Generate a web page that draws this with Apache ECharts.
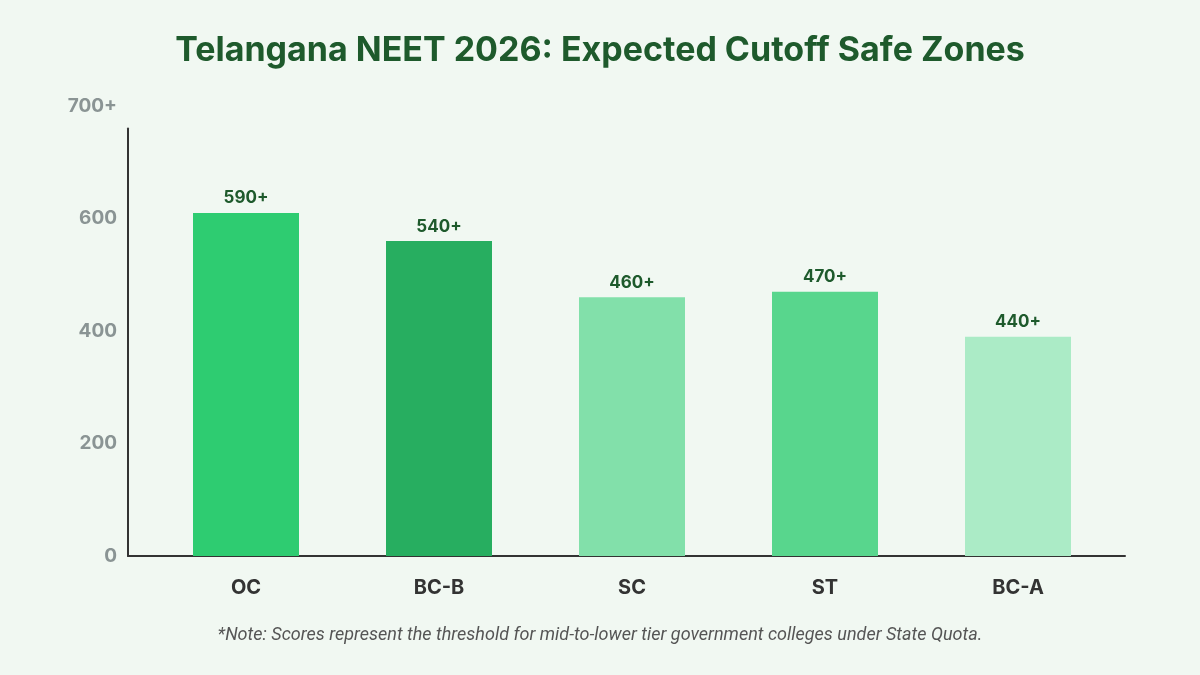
<!DOCTYPE html>
<html>
<head>
<meta charset="utf-8">
<script src="https://cdn.jsdelivr.net/npm/echarts@6/dist/echarts.min.js"></script>
<style>
html,body{margin:0;padding:0;background:#f1f8f2;}
#chart{width:1200px;height:675px;}
</style>
</head>
<body>
<div id="chart"></div>
<script>
const categories = ['OC', 'BC-B', 'SC', 'ST', 'BC-A'];
const barValues = [610, 560, 460, 470, 390];
const barLabels = ['590+', '540+', '460+', '470+', '440+'];
const barColors = ['#2ecc71', '#27ae60', '#82e0aa', '#58d68d', '#abebc6'];
const yTicks = [0, 200, 400, 600];
const yTopLabel = '700+';

(function () {
const FONT = 'Inter, "Noto Sans", sans-serif';
const chart = echarts.init(document.getElementById('chart'));
const gTop = 128.5, gBottom = 119, yMax = 760;

chart.setOption({
  backgroundColor: '#f1f8f2',
  animation: false,
  title: {
    text: 'Telangana NEET 2026: Expected Cutoff Safe Zones',
    left: 'center', top: 29,
    textStyle: { fontFamily: FONT, fontSize: 34, fontWeight: 'bold', color: '#1e5a2c' }
  },
  graphic: [{
    type: 'text', left: 'center', top: 626,
    style: {
      text: '*Note: Scores represent the threshold for mid-to-lower tier government colleges under State Quota.',
      font: 'italic 18px Roboto, sans-serif', fill: '#555555'
    }
  }],
  grid: [
    { left: 128, right: 75, top: gTop, bottom: gBottom },
    { left: 149.5, right: 85.5, top: gTop, bottom: gBottom }
  ],
  xAxis: [
    { type: 'category', gridIndex: 0, data: categories.map(() => ''),
      axisLine: { show: true, lineStyle: { color: '#333333', width: 2 } },
      axisTick: { show: false }, axisLabel: { show: false }, splitLine: { show: false } },
    { type: 'category', gridIndex: 1, data: categories,
      axisLine: { show: false }, axisTick: { show: false },
      axisLabel: { margin: 22, fontFamily: FONT, fontSize: 20, fontWeight: 'bold', color: '#333333' } }
  ],
  yAxis: [
    { type: 'value', gridIndex: 0, min: 0, max: yMax, interval: 200,
      name: yTopLabel, nameLocation: 'end', nameGap: 13,
      nameTextStyle: { fontFamily: FONT, fontSize: 19, fontWeight: 'bold', color: '#8a9494', align: 'right', padding: [0, 11, 0, 0] },
      axisLine: { show: true, lineStyle: { color: '#333333', width: 2 } },
      axisTick: { show: false }, splitLine: { show: false },
      axisLabel: { margin: 11, fontFamily: FONT, fontSize: 19, fontWeight: 'bold', color: '#8a9494',
        formatter: v => yTicks.includes(v) ? String(v) : '' } },
    { type: 'value', gridIndex: 1, min: 0, max: yMax, show: false }
  ],
  series: [{
    type: 'bar', xAxisIndex: 1, yAxisIndex: 1,
    barWidth: 106,
    data: barValues.map((v, i) => ({ value: v, itemStyle: { color: barColors[i] } })),
    label: {
      show: true, position: 'top', distance: 6,
      formatter: p => barLabels[p.dataIndex],
      fontFamily: FONT, fontSize: 17, fontWeight: 'bold', color: '#1e5a2c'
    }
  }]
});
})();
</script>
</body>
</html>
